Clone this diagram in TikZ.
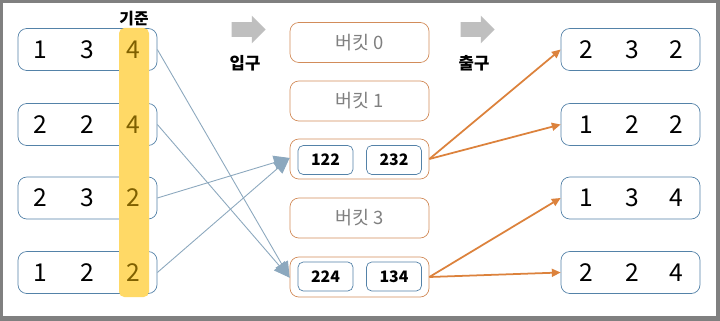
\documentclass[tikz,border=0pt]{standalone}
\usepackage{fontspec}
\setmainfont{Noto Sans CJK KR}
\usepackage{tikz}
\usetikzlibrary{shapes.arrows,arrows.meta}

\definecolor{boxblue}{RGB}{84,130,168}
\definecolor{linkblue}{RGB}{140,168,190}
\definecolor{keyyellow}{RGB}{255,217,102}
\definecolor{keytext}{RGB}{127,96,0}
\definecolor{bucketline}{RGB}{210,140,90}
\definecolor{outorange}{RGB}{220,130,60}

\begin{document}
\begin{tikzpicture}[scale=0.2]
				\tikzset{rowbox/.style={draw=boxblue,rounded corners=5pt,minimum width=2.78cm,minimum height=0.84cm,inner sep=0pt}}
				\tikzset{num/.style={font=\fontsize{14}{14}\selectfont,inner sep=0pt}}
				\tikzset{bucket/.style={draw=bucketline,rounded corners=5pt,minimum width=2.78cm,minimum height=0.8cm,inner sep=0pt,text=black!50,font=\fontsize{10.5}{11}\selectfont}}
				\tikzset{item/.style={draw=boxblue,rounded corners=3pt,minimum width=1.1cm,minimum height=0.58cm,inner sep=0pt,font=\bfseries\fontsize{9}{9}\selectfont}}
				\tikzset{flow/.style={single arrow,fill=black!25,draw=none,minimum height=0.68cm,inner xsep=0pt,inner ysep=0.14cm,single arrow head extend=0.13cm}}
				\tikzset{inlink/.style={linkblue,line width=0.5pt,-{Triangle[length=9pt,width=8pt]}}}
				\tikzset{outlink/.style={outorange,line width=1pt,-{Triangle[length=5pt,width=4.5pt]}}}
				% frame
				\fill [black!50] (0,0) rectangle (72,-32.1);
				\fill [white] (0.3,-0.3) rectangle (71.6,-31.6);
				% input rows
				\node [rowbox] (in1) at (8.75,-4.95) {};
				\node [rowbox] (in2) at (8.75,-12.45) {};
				\node [rowbox] (in3) at (8.75,-19.8) {};
				\node [rowbox] (in4) at (8.75,-27.25) {};
				% key column
				\fill [keyyellow,rounded corners=3pt] (11.9,-2.8) rectangle (14.9,-29.7);
				\draw (13.4,-1.9) node [font=\bfseries\fontsize{9}{9}\selectfont] (keylabel) {기준};
				\draw (4,-4.95) node [num] (a1) {1};
				\draw (8.7,-4.95) node [num] (a2) {3};
				\draw (13.3,-4.95) node [num,text=keytext] (a3) {4};
				\draw (4,-12.45) node [num] (b1) {2};
				\draw (8.7,-12.45) node [num] (b2) {2};
				\draw (13.3,-12.45) node [num,text=keytext] (b3) {4};
				\draw (4,-19.8) node [num] (c1) {2};
				\draw (8.7,-19.8) node [num] (c2) {3};
				\draw (13.3,-19.8) node [num,text=keytext] (c3) {2};
				\draw (4,-27.25) node [num] (d1) {1};
				\draw (8.7,-27.25) node [num] (d2) {2};
				\draw (13.3,-27.25) node [num,text=keytext] (d3) {2};
				% direction marks
				\node [flow] (inarrow) at (24.5,-2.95) {};
				\draw (24.5,-6.3) node [font=\bfseries\fontsize{9.5}{10}\selectfont] (inlabel) {입구};
				\node [flow] (outarrow) at (47.4,-2.95) {};
				\draw (47.4,-6.3) node [font=\bfseries\fontsize{9.5}{10}\selectfont] (outlabel) {출구};
				% buckets
				\node [bucket] (bk0) at (35.95,-4.25) {버킷 0};
				\node [bucket] (bk1) at (35.95,-10.1) {버킷 1};
				\node [bucket] (bk2) at (35.95,-15.9) {};
				\node [bucket] (bk3) at (35.95,-21.8) {버킷 3};
				\node [bucket] (bk4) at (35.95,-27.7) {};
				\node [item] (i122) at (32.55,-16) {122};
				\node [item] (i232) at (39.4,-16) {232};
				\node [item] (i224) at (32.55,-27.65) {224};
				\node [item] (i134) at (39.4,-27.65) {134};
				% output rows
				\node [rowbox] (out1) at (63.05,-4.95) {};
				\node [rowbox] (out2) at (63.05,-12.45) {};
				\node [rowbox] (out3) at (63.05,-19.8) {};
				\node [rowbox] (out4) at (63.05,-27.25) {};
				\draw (58.6,-4.95) node [num] (e1) {2};
				\draw (63.2,-4.95) node [num] (e2) {3};
				\draw (67.6,-4.95) node [num] (e3) {2};
				\draw (58.6,-12.45) node [num] (f1) {1};
				\draw (63.2,-12.45) node [num] (f2) {2};
				\draw (67.6,-12.45) node [num] (f3) {2};
				\draw (58.6,-19.8) node [num] (g1) {1};
				\draw (63.2,-19.8) node [num] (g2) {3};
				\draw (67.6,-19.8) node [num] (g3) {4};
				\draw (58.6,-27.25) node [num] (h1) {2};
				\draw (63.2,-27.25) node [num] (h2) {2};
				\draw (67.6,-27.25) node [num] (h3) {4};
				% distribution
				\draw [inlink] (in1.east) -- ([yshift=-2pt]bk4.west);
				\draw [inlink] (in2.east) -- ([yshift=-2pt]bk4.west);
				\draw [inlink] (in3.east) -- ([yshift=3pt]bk2.west);
				\draw [inlink] (in4.east) -- ([yshift=3pt]bk2.west);
				% collection
				\draw [outlink] (bk2.east) -- (out1.west);
				\draw [outlink] (bk2.east) -- (out2.west);
				\draw [outlink] (bk4.east) -- (out3.west);
				\draw [outlink] (bk4.east) -- (out4.west);
\end{tikzpicture}
\end{document}
